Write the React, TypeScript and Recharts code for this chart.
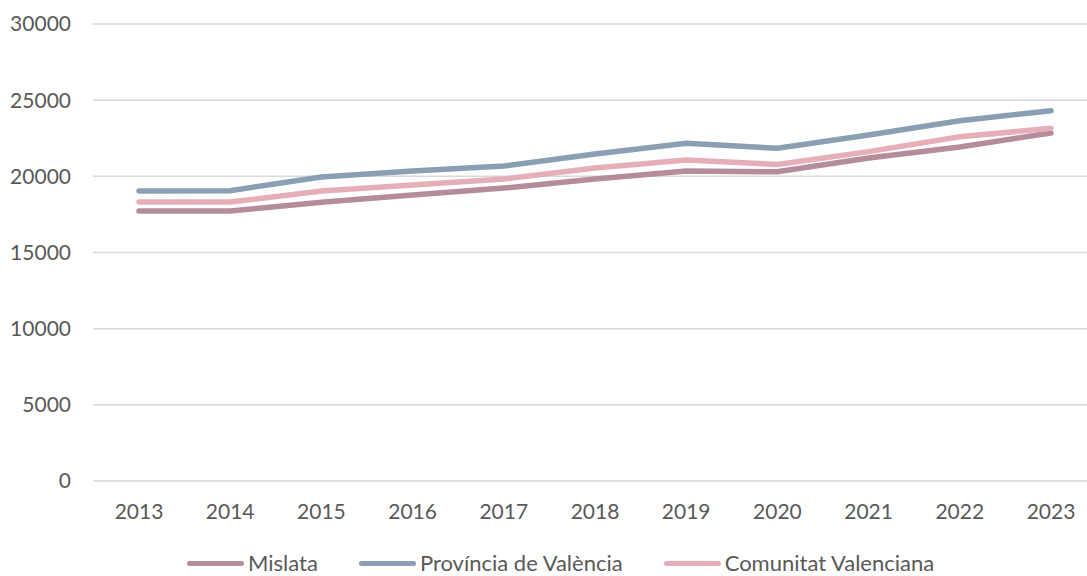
import { CartesianGrid, Legend, Line, LineChart, XAxis, YAxis } from "recharts";

const years = ["2013", "2014", "2015", "2016", "2017", "2018", "2019", "2020", "2021", "2022", "2023"];
const mislata = [17720, 17720, 18300, 18770, 19230, 19820, 20350, 20300, 21200, 21930, 22850];
const provincia = [19040, 19060, 19960, 20350, 20680, 21470, 22170, 21840, 22710, 23650, 24310];
const comunitat = [18310, 18310, 19040, 19430, 19820, 20550, 21070, 20780, 21620, 22600, 23150];
const yTicks = [0, 5000, 10000, 15000, 20000, 25000, 30000];

const series = [
    { key: "mislata", name: "Mislata", color: "#b58c9a" },
    { key: "provincia", name: "Província de València", color: "#8a9fb4" },
    { key: "comunitat", name: "Comunitat Valenciana", color: "#e6aeb9" },
];

const data = years.map((year, i) => ({
    year,
    mislata: mislata[i],
    provincia: provincia[i],
    comunitat: comunitat[i],
}));

const font = "Lato, 'Open Sans', sans-serif";

const LegendContent = () => (
    <div style={{ display: "flex", paddingLeft: 187, fontFamily: font, fontSize: 22, color: "#595959", lineHeight: "26px" }}>
        {series.map((s) => (
            <div key={s.key} style={{ display: "flex", alignItems: "center", marginRight: 41 }}>
                <div style={{ width: 57, height: 5, borderRadius: 3, background: s.color, marginRight: 4 }} />
                <span>{s.name}</span>
            </div>
        ))}
    </div>
);

const App = () => {
    return (
        <div style={{ position: "absolute", left: 0, top: 0, width: 1087, height: 576, overflow: "hidden", background: "#fff" }}>
            <LineChart width={1097} height={576} data={data} margin={{ top: 24, right: 0, bottom: 29, left: 0 }}>
                <CartesianGrid vertical={false} stroke="#d9d9d9" strokeWidth={1.5} />
                <XAxis
                    dataKey="year"
                    axisLine={false}
                    tickLine={false}
                    tickSize={0}
                    tickMargin={23}
                    height={40}
                    padding={{ left: 46, right: 46 }}
                    tick={{ fill: "#595959", fontSize: 21, fontFamily: font }}
                />
                <YAxis
                    domain={[0, 30000]}
                    ticks={yTicks}
                    axisLine={false}
                    tickLine={false}
                    tickSize={0}
                    tickMargin={22}
                    width={93}
                    tick={{ fill: "#595959", fontSize: 21, fontFamily: font }}
                />
                <Legend content={<LegendContent />} wrapperStyle={{ top: 550, left: 0 }} />
                {series.map((s) => (
                    <Line
                        key={s.key}
                        type="linear"
                        dataKey={s.key}
                        name={s.name}
                        stroke={s.color}
                        strokeWidth={5.5}
                        strokeLinecap="round"
                        dot={false}
                        isAnimationActive={false}
                    />
                ))}
            </LineChart>
        </div>
    );
};

export default App;
